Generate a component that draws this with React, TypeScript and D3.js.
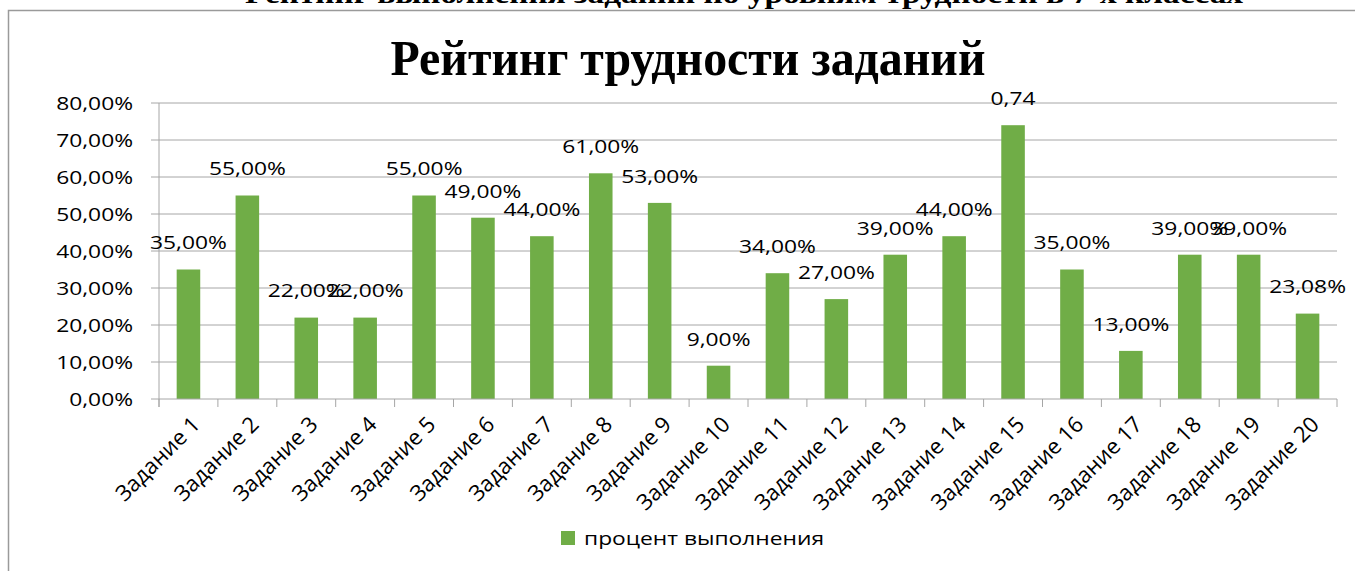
import React from "react";
import * as d3 from "d3";

const categories = Array.from({ length: 20 }, (_, i) => `Задание ${i + 1}`);
const values = [35, 55, 22, 22, 55, 49, 44, 61, 53, 9, 34, 27, 39, 44, 74, 35, 13, 39, 39, 23.08];
const labels = [
  "35,00%", "55,00%", "22,00%", "22,00%", "55,00%", "49,00%", "44,00%", "61,00%", "53,00%", "9,00%",
  "34,00%", "27,00%", "39,00%", "44,00%", "0,74", "35,00%", "13,00%", "39,00%", "39,00%", "23,08%",
];
const yTicks = [0, 10, 20, 30, 40, 50, 60, 70, 80];
const yTickLabels = ["0,00%", "10,00%", "20,00%", "30,00%", "40,00%", "50,00%", "60,00%", "70,00%", "80,00%"];
const title = "Рейтинг трудности заданий";
const topTitle = "Рейтинг выполнения заданий по уровням трудности в 7-х классах";
const legendLabel = "процент выполнения";

const W = 1355;
const H = 571;
const left = 159;
const right = 1337;
const top = 103;
const bottom = 399;
const font = "'Open Sans', 'Noto Sans', sans-serif";
const green = "#70AD47";
const grid = "#A6A6A6";
const SX = 1.2;

function SText(props: { x: number; y: number; anchor?: string; size?: number; children: React.ReactNode; dy?: string }) {
  const { x, y, anchor = "start", size = 19, children, dy } = props;
  return (
    <g transform={`translate(${x},${y}) scale(${SX},1)`}>
      <text x={0} y={0} dy={dy} textAnchor={anchor} fontFamily={font} fontSize={size} fill="#000">
        {children}
      </text>
    </g>
  );
}

export default function App() {
  const x = d3.scaleBand<string>().domain(categories).range([left, right]).paddingInner(0.6).paddingOuter(0.3);
  const xEdges = d3.scaleLinear().domain([0, categories.length]).range([left, right]);
  const y = d3.scaleLinear().domain([0, 80]).range([bottom, top]);
  const step = (right - left) / categories.length;

  return (
    <svg width={W} height={H} style={{ position: "absolute", left: 0, top: 0, background: "#fff" }}>
      <rect x={0} y={0} width={W} height={H} fill="#fff" />
      {/* cut top title */}
      <text x={245} y={3} fontFamily="'Liberation Serif', 'Times New Roman', serif" fontWeight="bold" fontSize={28}
        textLength={998} lengthAdjust="spacingAndGlyphs">{topTitle}</text>
      {/* frame */}
      <path d={`M8.5,${H + 5} V10.5 H${W + 5}`} fill="none" stroke="#9a9a9a" strokeWidth={1.5} />
      {/* main title */}
      <text x={688} y={75} textAnchor="middle" fontFamily="'Liberation Serif', 'Times New Roman', serif"
        fontWeight="bold" fontSize={50} textLength={595} lengthAdjust="spacingAndGlyphs">{title}</text>
      {/* gridlines */}
      {yTicks.map((t, i) => (
        <g key={t}>
          {t > 0 && <line x1={left} x2={right} y1={y(t)} y2={y(t)} stroke={grid} strokeWidth={1} />}
          <line x1={left - 8} x2={left} y1={y(t)} y2={y(t)} stroke={grid} strokeWidth={1} />
          <SText x={133} y={y(t)} dy="0.36em" anchor="end" size={19}>{yTickLabels[i]}</SText>
        </g>
      ))}
      {/* y axis */}
      <line x1={left} x2={left} y1={top} y2={bottom + 8} stroke={grid} strokeWidth={1} />
      {/* bars */}
      {categories.map((c, i) => (
        <rect key={c} x={x(c)} y={y(values[i])} width={x.bandwidth()} height={bottom - y(values[i])} fill={green} />
      ))}
      {/* x axis */}
      <line x1={left} x2={right} y1={bottom} y2={bottom} stroke={grid} strokeWidth={1} />
      {d3.range(categories.length + 1).map((i) => (
        <line key={i} x1={xEdges(i)} x2={xEdges(i)} y1={bottom} y2={bottom + 8} stroke={grid} strokeWidth={1} />
      ))}
      {/* data labels */}
      {categories.map((c, i) => (
        <SText key={c} x={(x(c) as number) + x.bandwidth() / 2} y={y(values[i]) - 27} dy="0.36em" anchor="middle" size={19}>
          {labels[i]}
        </SText>
      ))}
      {/* category labels */}
      {categories.map((c, i) => {
        const cx = xEdges(i) + step / 2 + 2;
        const cy = bottom + 16;
        return (
          <text key={c} transform={`translate(${cx},${cy}) rotate(-45)`} textAnchor="end" dy="0.7em"
            fontFamily={font} fontSize={22} fill="#000">
            {c}
          </text>
        );
      })}
      {/* legend */}
      <rect x={561} y={531} width={14} height={14} fill={green} />
      <SText x={584} y={545} size={19}>{legendLabel}</SText>
    </svg>
  );
}
